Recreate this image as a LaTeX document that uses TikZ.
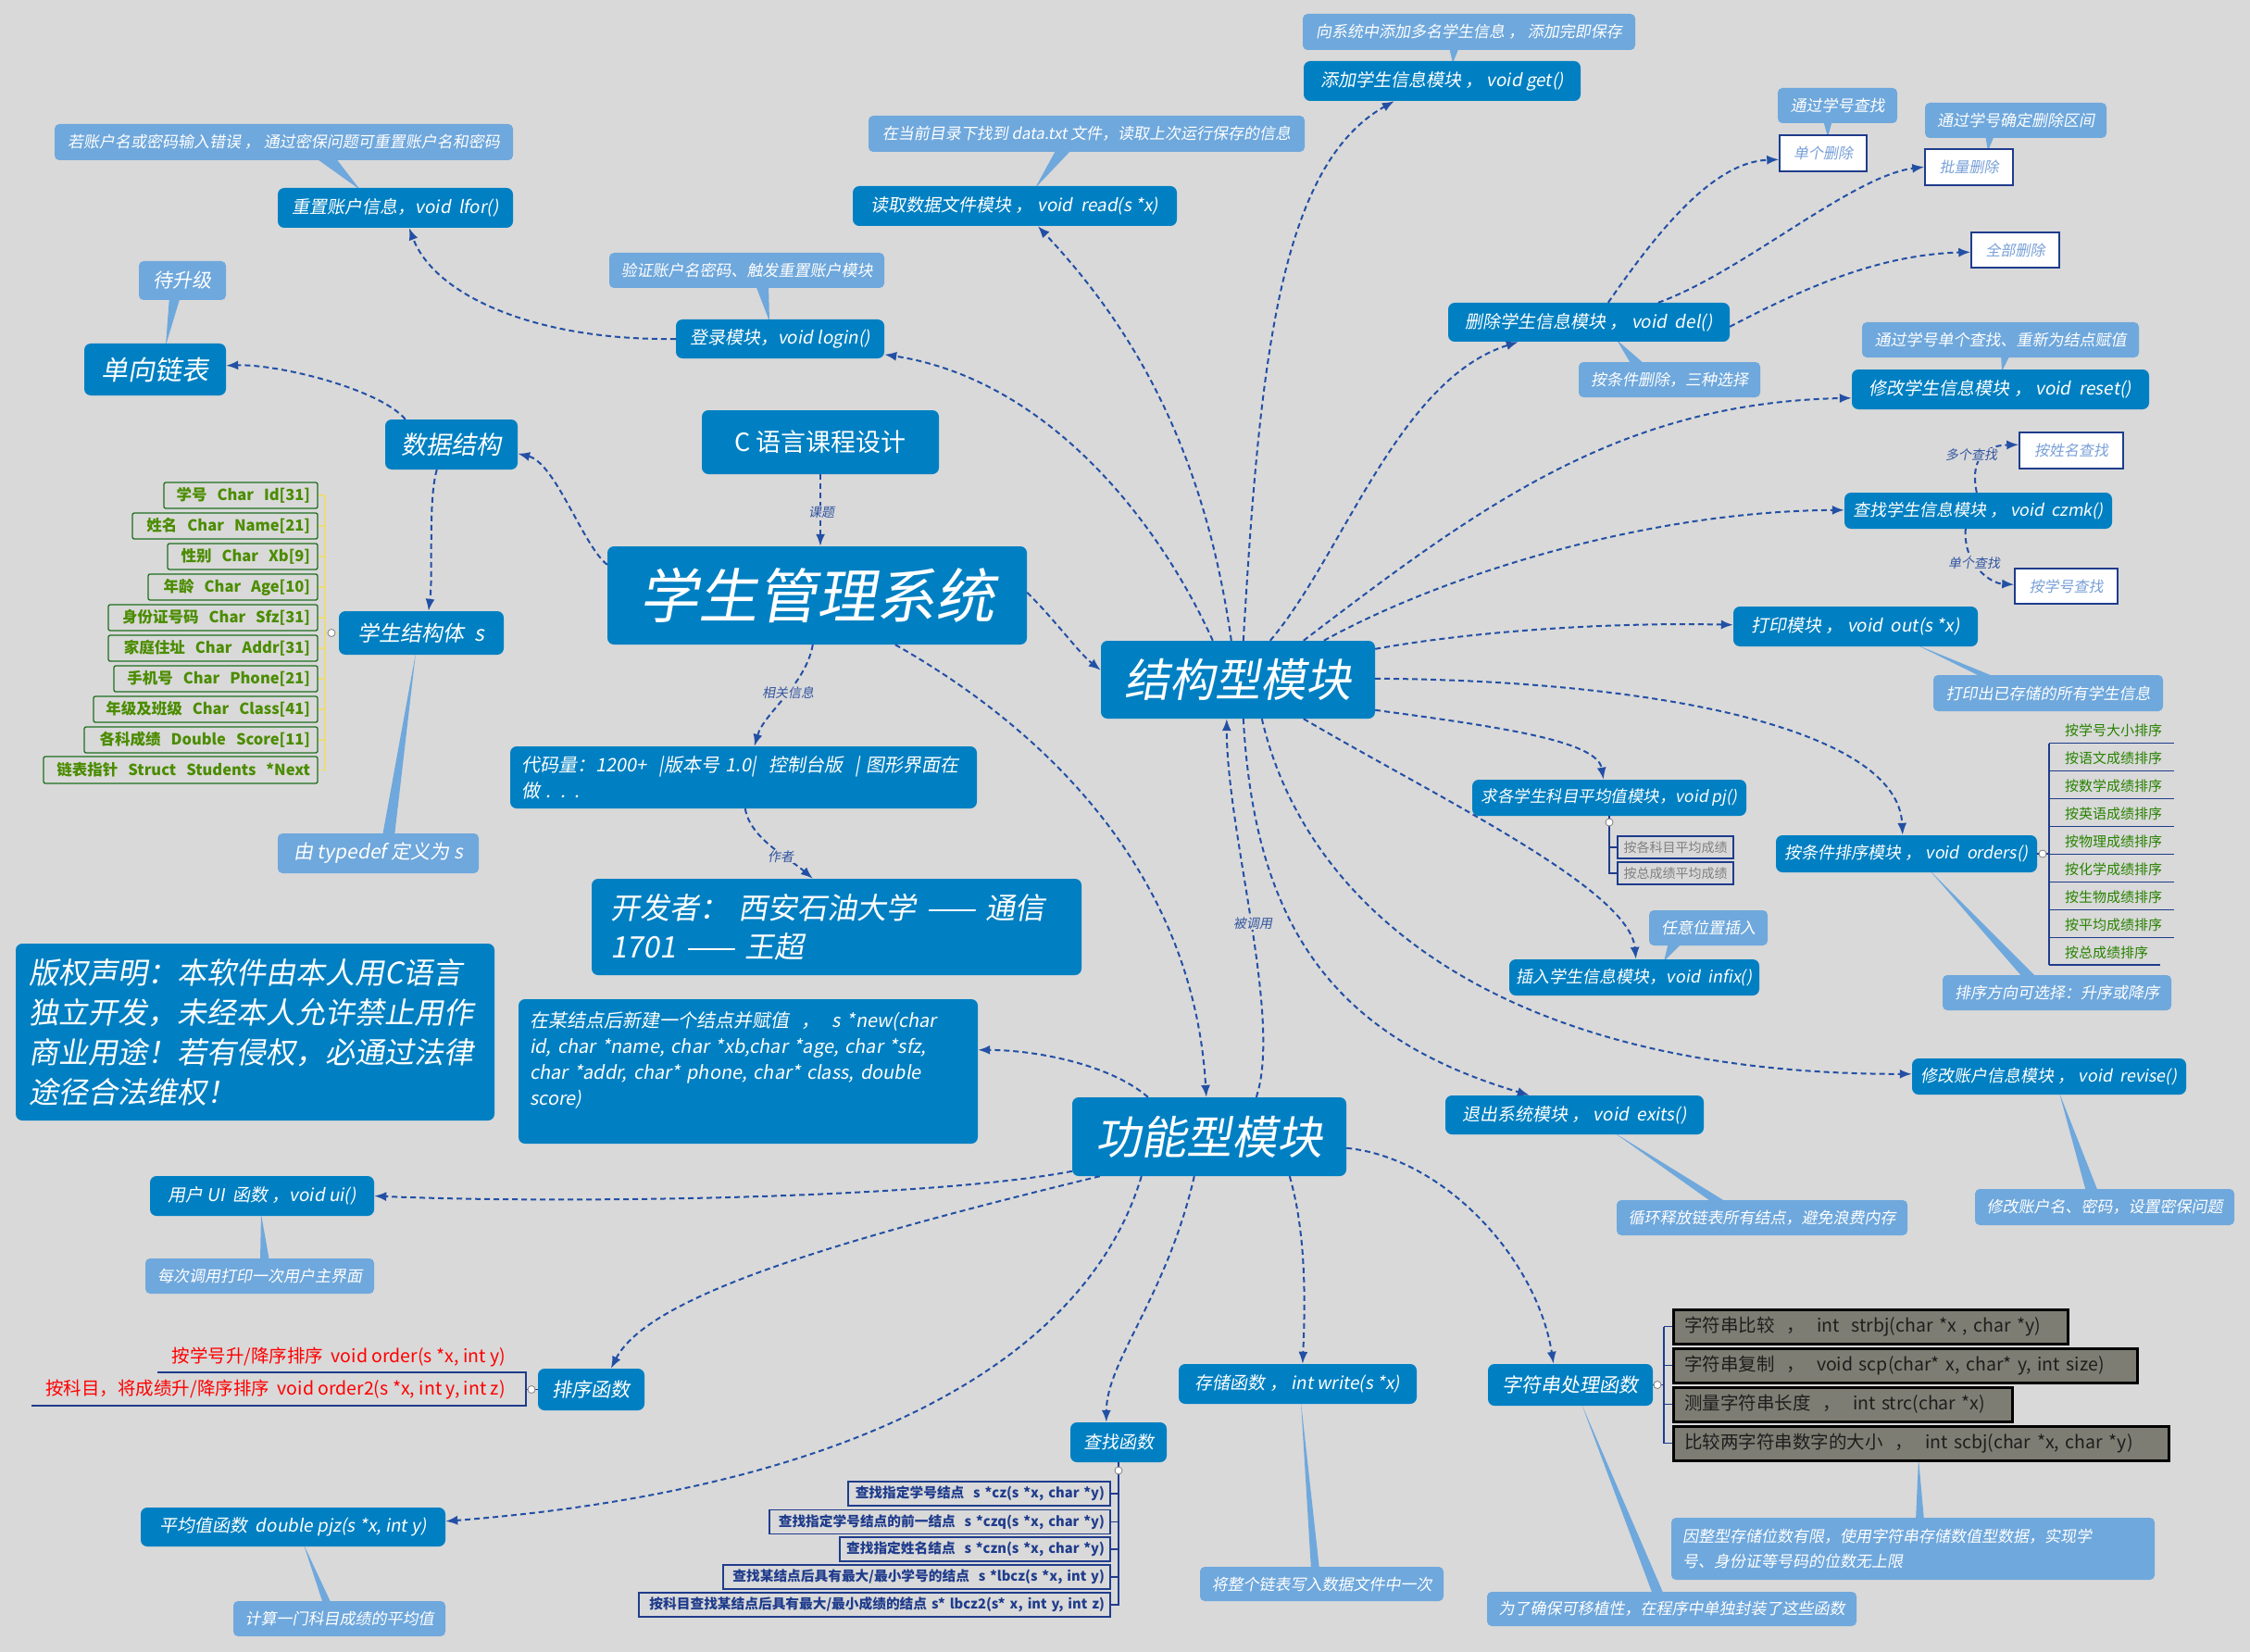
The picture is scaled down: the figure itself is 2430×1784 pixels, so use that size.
\documentclass[tikz,border=0pt]{standalone}
\usepackage{fontspec}
\usetikzlibrary{arrows.meta}
\newfontfamily\zh[FakeSlant=0.18]{Noto Sans CJK SC}
\newfontfamily\zhup{Noto Sans CJK SC}
\newcommand\myfs[1]{\fontsize{#1pt}{\dimexpr#1pt*5/4\relax}\selectfont}
\definecolor{bgc}{RGB}{217,217,217}
\definecolor{dcol}{RGB}{0,128,194}
\definecolor{lcol}{RGB}{111,168,220}
\definecolor{ccol}{RGB}{35,80,165}
\definecolor{navy}{RGB}{31,60,140}
\definecolor{gtext}{RGB}{75,140,0}
\definecolor{gline}{RGB}{30,110,30}
\definecolor{ybr}{RGB}{235,220,120}
\definecolor{kcol}{RGB}{125,125,115}
\definecolor{ktext}{RGB}{30,30,30}
\definecolor{labc}{RGB}{50,85,160}
\definecolor{wtext}{RGB}{120,160,215}
\definecolor{sgreen}{RGB}{40,130,0}
\tikzset{
 sz/.style 2 args={minimum width=#1pt, minimum height=#2pt},
 dbox/.style={fill=dcol, rounded corners=7pt, text=white, inner sep=0pt, align=center, font=\zh\myfs{19}},
 lbox/.style={fill=lcol, rounded corners=5pt, text=white, inner sep=0pt, align=center, font=\zh\myfs{17}},
 wbox/.style={fill=white, draw=navy, line width=1.5pt, text=wtext, inner sep=0pt, font=\zh\myfs{16}},
 gbox/.style={draw=gline, line width=1.3pt, rounded corners=2pt, text=gtext, inner xsep=8pt, inner ysep=0pt, minimum height=28pt, align=right, font=\zhup\bfseries\myfs{16.5}},
 sbox/.style={draw=navy, line width=1.3pt, text=navy, inner xsep=6pt, inner ysep=0pt, minimum height=26pt, align=right, font=\zhup\bfseries\myfs{14.7}},
 kbox/.style={fill=kcol, draw=black, line width=3pt, text=ktext, inner xsep=12pt, inner ysep=0pt, minimum height=37pt, align=left, font=\zhup\myfs{19.5}},
 con/.style={draw=ccol, line width=2pt, dash pattern=on 6pt off 4pt, -{Latex[length=13pt,width=10pt]}},
 elab/.style={text=labc, font=\zh\myfs{14}, inner sep=1pt, fill=bgc},
 stxt/.style={text=sgreen, font=\zhup\myfs{15}, inner sep=0pt, anchor=west},
 ptxt/.style={draw=navy, line width=1.2pt, text=gray, font=\zhup\myfs{14}, inner sep=0pt, minimum width=125pt, minimum height=24pt},
 rtxt/.style={text=red, font=\zhup\myfs{19.5}, inner sep=0pt, anchor=east},
 brk/.style={draw=navy, line width=1.3pt},
 cdot/.style={circle, fill=white, draw=gray, line width=0.8pt, inner sep=0pt, minimum size=8pt},
}
\begin{document}
\begin{tikzpicture}[x=1pt,y=-1pt]
\fill[bgc] (0,0) rectangle (2430,1784);
\useasboundingbox (0,0) rectangle (2430,1784);

% ---------- callout wedges ----------
\fill[lcol] (340,170) -- (362,170) -- (389,205) -- cycle;
\fill[lcol] (183,320) -- (195,320) -- (179,373) -- cycle;
\fill[lcol] (816,308) -- (830,308) -- (831,347) -- cycle;
\fill[lcol] (1141,161) -- (1158,161) -- (1118,203) -- cycle;
\fill[lcol] (1565,51) -- (1576,51) -- (1569,68) -- cycle;
\fill[lcol] (1969,130) -- (1979,130) -- (1974,148) -- cycle;
\fill[lcol] (2144,146) -- (2154,146) -- (2147,163) -- cycle;
\fill[lcol] (1762,394) -- (1777,394) -- (1746,367) -- cycle;
\fill[lcol] (2161,383) -- (2171,383) -- (2162,401) -- cycle;
\fill[lcol] (2142,732) -- (2157,732) -- (2069,696) -- cycle;
\fill[lcol] (1802,1018) -- (1817,1018) -- (1797,1038) -- cycle;
\fill[lcol] (2185,1056) -- (2200,1056) -- (2084,940) -- cycle;
\fill[lcol] (1850,1299) -- (1866,1299) -- (1743,1223) -- cycle;
\fill[lcol] (2253,1287) -- (2266,1287) -- (2224,1180) -- cycle;
\fill[lcol] (413,903) -- (426,903) -- (449,705) -- cycle;
\fill[lcol] (281,1362) -- (291,1362) -- (282,1311) -- cycle;
\fill[lcol] (349,1732) -- (358,1732) -- (328,1668) -- cycle;
\fill[lcol] (1416,1695) -- (1425,1695) -- (1405,1514) -- cycle;
\fill[lcol] (1785,1722) -- (1797,1722) -- (1708,1516) -- cycle;
\fill[lcol] (2069,1642) -- (2078,1642) -- (2072,1575) -- cycle;

% ---------- main dark boxes ----------
\node[dbox, sz={453}{106}, font=\zh\myfs{64}] (root) at (882.5,643) {学生管理系统};
\node[dbox, sz={256}{69}, font=\zhup\myfs{27}] (csd) at (886,477.5) {C 语言课程设计};
\node[dbox, sz={143}{54}, font=\zh\myfs{27}] (ds) at (487.5,480) {数据结构};
\node[dbox, sz={153}{56}, font=\zh\myfs{29}] (list) at (167.5,399) {单向链表};
\node[dbox, sz={178}{47}, font=\zh\myfs{23}] (stu) at (455,683.5) {学生结构体\ \ s};
\node[dbox, sz={225}{42}] (login) at (842.5,366) {登录模块，void login()};
\node[dbox, sz={254}{43}] (racc) at (427,224.5) {重置账户信息，void\ \ lfor()};
\node[dbox, sz={350}{43}] (read) at (1096,222.5) {读取数据文件模块 ， void\ \ read(s *x)};
\node[dbox, sz={299}{43}] (get) at (1557.5,87.5) {添加学生信息模块 ， void get()};
\node[dbox, sz={304}{42}] (del) at (1716,348) {删除学生信息模块 ， void\ \ del()};
\node[dbox, sz={321}{43}] (reset) at (2160.5,420.5) {修改学生信息模块 ， void\ \ reset()};
\node[dbox, sz={289}{39}, font=\zh\myfs{18}] (czmk) at (2136.5,551.5) {查找学生信息模块 ， void\ \ czmk()};
\node[dbox, sz={264}{43}] (out) at (2004,676.5) {打印模块 ， void\ \ out(s *x)};
\node[dbox, sz={296}{39}, font=\zh\myfs{17.5}] (pj) at (1738,861.5) {求各学生科目平均值模块，void pj()};
\node[dbox, sz={282}{40}, font=\zh\myfs{18}] (orders) at (2059,922) {按条件排序模块 ， void\ \ orders()};
\node[dbox, sz={270}{39}, font=\zh\myfs{18}] (infix) at (1765,1055.5) {插入学生信息模块，void\ \ infix()};
\node[dbox, sz={296}{39}, font=\zh\myfs{18}] (revise) at (2213,1162.5) {修改账户信息模块 ， void\ \ revise()};
\node[dbox, sz={279}{42}] (exits) at (1700.5,1204) {退出系统模块 ， void\ \ exits()};
\node[dbox, sz={296}{84}, font=\zh\myfs{49}] (struct) at (1337,734) {结构型模块};
\node[dbox, sz={296}{85}, font=\zh\myfs{49}] (func) at (1306,1227.5) {功能型模块};
\node[dbox, minimum height=67pt, text width=480pt, inner xsep=12pt, align=left, font=\zh\fontsize{20pt}{28pt}\selectfont] (info) at (803,839.5) {代码量：1200+\ \ |版本号 1.0|\ \ 控制台版 \ |\ 图形界面在\\做 . . .};
\node[dbox, minimum height=104pt, text width=489pt, inner xsep=20pt, align=left, font=\zh\fontsize{32pt}{42pt}\selectfont] (dev) at (903.5,1001) {开发者： 西安石油大学 —— 通信\\1701 —— 王超};
\node[dbox, minimum height=156pt, text width=472pt, inner xsep=12pt, align=left, font=\zh\fontsize{20pt}{28pt}\selectfont] (new) at (808,1157) {在某结点后新建一个结点并赋值 \ ， \ s *new(char\\*id, char *name, char *xb,char *age, char *sfz,\\char *addr, char* phone, char* class, double\\*score)\\\mbox{}};
\node[dbox, minimum height=191pt, text width=489pt, inner xsep=14pt, align=left, font=\zh\fontsize{32pt}{43pt}\selectfont] (copy) at (275.5,1114.5) {版权声明：本软件由本人用C语言\\独立开发，未经本人允许禁止用作\\商业用途！若有侵权，必通过法律\\途径合法维权！};
\node[dbox, sz={242}{43}] (ui) at (283,1291.5) {用户 UI\ \ 函数 ，void ui()};
\node[dbox, sz={115}{45}, font=\zh\myfs{21}] (sortf) at (638.5,1500.5) {排序函数};
\node[dbox, sz={329}{42}] (pjz) at (316.5,1649) {平均值函数\ \ double pjz(s *x, int y)};
\node[dbox, sz={104}{43}, font=\zh\myfs{19}] (search) at (1208,1557.5) {查找函数};
\node[dbox, sz={257}{43}] (write) at (1401.5,1494.5) {存储函数 ， int write(s *x)};
\node[dbox, sz={178}{45}, font=\zh\myfs{21}] (strp) at (1696,1495.5) {字符串处理函数};

% ---------- light notes ----------
\node[lbox, sz={495}{39}] (n1) at (306.5,153.5) {若账户名或密码输入错误 ， 通过密保问题可重置账户名和密码};
\node[lbox, sz={94}{42}, font=\zh\myfs{21}] (n2) at (197,303) {待升级};
\node[lbox, sz={297}{38}] (n3) at (806.5,292) {验证账户名密码、触发重置账户模块};
\node[lbox, sz={471}{39}] (n4) at (1173.5,144.5) {在当前目录下找到 data.txt 文件，读取上次运行保存的信息};
\node[lbox, sz={359}{39}] (n5) at (1586.5,34.5) {向系统中添加多名学生信息 ， 添加完即保存};
\node[lbox, sz={129}{38}] (n6) at (1984.5,114) {通过学号查找};
\node[lbox, sz={196}{38}] (n7) at (2177,130) {通过学号确定删除区间};
\node[lbox, sz={196}{38}] (n8) at (1803,410) {按条件删除，三种选择};
\node[lbox, sz={299}{38}] (n9) at (2160.5,367) {通过学号单个查找、重新为结点赋值};
\node[lbox, sz={248}{39}] (n10) at (2212,748.5) {打印出已存储的所有学生信息};
\node[lbox, sz={128}{38}] (n11) at (1845,1002) {任意位置插入};
\node[lbox, sz={247}{38}] (n12) at (2221.5,1072) {排序方向可选择：升序或降序};
\node[lbox, sz={314}{38}] (n13) at (1903,1315) {循环释放链表所有结点，避免浪费内存};
\node[lbox, sz={280}{39}] (n14) at (2273,1303.5) {修改账户名、密码，设置密保问题};
\node[lbox, sz={217}{43}, font=\zh\myfs{21}] (n15) at (408.5,921.5) {由 typedef 定义为 s};
\node[lbox, sz={247}{38}] (n16) at (280.5,1378) {每次调用打印一次用户主界面};
\node[lbox, sz={229}{38}] (n17) at (366.5,1748) {计算一门科目成绩的平均值};
\node[lbox, sz={263}{37}] (n18) at (1427.5,1710.5) {将整个链表写入数据文件中一次};
\node[lbox, sz={399}{37}] (n19) at (1805.5,1737.5) {为了确保可移植性，在程序中单独封装了这些函数};
\node[lbox, minimum height=67pt, text width=498pt, inner xsep=12pt, align=left, font=\zh\fontsize{17pt}{27pt}\selectfont] (n20) at (2066,1672.5) {因整型存储位数有限，使用字符串存储数值型数据，实现学\\号、身份证等号码的位数无上限};

% ---------- white boxes ----------
\node[wbox, sz={94}{39}] (w1) at (1969,165.5) {单个删除};
\node[wbox, sz={95}{39}] (w2) at (2126.5,180.5) {批量删除};
\node[wbox, sz={95}{38}] (w3) at (2176.5,270) {全部删除};
\node[wbox, sz={112}{39}] (w4) at (2237,486.5) {按姓名查找};
\node[wbox, sz={111}{38}] (w5) at (2231.5,633) {按学号查找};

% ---------- struct fields ----------
\draw[ybr, line width=1.5pt] (351,535) -- (351,831.5);
\foreach \yy in {535,568,601,634,667,700,733,766,799,831.5} \draw[ybr, line width=1.5pt] (343,\yy) -- (351,\yy);
\draw[ybr, line width=1.5pt] (351,683.5) -- (stu.west);
\node[gbox, text width=150pt] (f1) at (260,535) {学号\ \ Char\ \ Id[31]};
\node[gbox, text width=184pt] (f2) at (243,568) {姓名\ \ Char\ \ Name[21]};
\node[gbox, text width=146pt] (f3) at (262,601) {性别\ \ Char\ \ Xb[9]};
\node[gbox, text width=167pt] (f4) at (251.5,634) {年龄\ \ Char\ \ Age[10]};
\node[gbox, text width=210pt] (f5) at (230,667) {身份证号码\ \ Char\ \ Sfz[31]};
\node[gbox, text width=210pt] (f6) at (230,700) {家庭住址\ \ Char\ \ Addr[31]};
\node[gbox, text width=204pt] (f7) at (233,733) {手机号\ \ Char\ \ Phone[21]};
\node[gbox, text width=226pt] (f8) at (222,766) {年级及班级\ \ Char\ \ Class[41]};
\node[gbox, text width=236pt] (f9) at (217,799) {各科成绩\ \ Double\ \ Score[11]};
\node[gbox, text width=280pt, minimum height=29pt] (f10) at (195,831.5) {链表指针\ \ Struct\ \ Students\ \ *Next};
\node[cdot] (d1) at (358,683.5) {};

% ---------- sort list ----------
\node[stxt] (s1) at (2230,789) {按学号大小排序};
\node[stxt] (s2) at (2230,819) {按语文成绩排序};
\node[stxt] (s3) at (2230,849) {按数学成绩排序};
\node[stxt] (s4) at (2230,879) {按英语成绩排序};
\node[stxt] (s5) at (2230,909) {按物理成绩排序};
\node[stxt] (s6) at (2230,939) {按化学成绩排序};
\node[stxt] (s7) at (2230,969) {按生物成绩排序};
\node[stxt] (s8) at (2230,999) {按平均成绩排序};
\node[stxt] (s9) at (2230,1029) {按总成绩排序};
\foreach \yy in {802.5,832.5,862.5,892.5,922.5,952.5,982.5,1012.5} \draw[brk] (2213,\yy) -- (2348,\yy);
\draw[brk] (2213,1042) -- (2333,1042);
\draw[brk] (2213,802.5) -- (2213,1042);
\draw[brk] (orders.east) -- (2213,922);
\node[cdot] (d2) at (2206,922) {};

% ---------- pj sub list ----------
\node[ptxt] (p1) at (1809.5,915) {按各科目平均成绩};
\node[ptxt] (p2) at (1809.5,943) {按总成绩平均成绩};
\draw[brk] (1738,881) -- (1738,943) -- (p2.west);
\draw[brk] (1738,915) -- (p1.west);
\node[cdot] (d3) at (1738,888) {};

% ---------- search list ----------
\node[sbox, text width=271pt] (c1) at (1057.5,1613) {查找指定学号结点\ \ s *cz(s *x, char *y)};
\node[sbox, text width=356pt] (c2) at (1015,1643.5) {查找指定学号结点的前一结点\ \ s *czq(s *x, char *y)};
\node[sbox, text width=280pt] (c3) at (1053,1673) {查找指定姓名结点\ \ s *czn(s *x, char *y)};
\node[sbox, text width=406pt] (c4) at (990,1703) {查找某结点后具有最大/最小学号的结点\ \ s *lbcz(s *x, int y)};
\node[sbox, text width=497pt] (c5) at (944.5,1733) {按科目查找某结点后具有最大/最小成绩的结点 s* lbcz2(s* x, int y, int z)};
\draw[brk] (search.south) -- (1208,1733) -- (c5.east);
\foreach \nn in {c1,c2,c3,c4} \draw[brk] (\nn.east) -- (\nn.east -| 1208,0);
\node[cdot] (d4) at (1208,1588) {};

% ---------- string function boxes ----------
\node[kbox, text width=402pt] (k1) at (2020,1432.5) {字符串比较 \ ， \ int\ \ strbj(char *x , char *y)};
\node[kbox, text width=477pt] (k2) at (2057.5,1474.5) {字符串复制 \ ， \ void scp(char* x, char* y, int size)};
\node[kbox, text width=342pt] (k3) at (1990,1516.5) {测量字符串长度 \ ， \ int strc(char *x)};
\node[kbox, text width=511pt] (k4) at (2074.5,1558.5) {比较两字符串数字的大小 \ ， \ int scbj(char *x, char *y)};
\draw[brk] (k1.west -| 1797,0) -- (k4.west -| 1797,0);
\foreach \nn in {k1,k2,k3,k4} \draw[brk] (\nn.west -| 1797,0) -- (\nn.west);
\draw[brk] (strp.east) -- (1797,1495.5);
\node[cdot] (d5) at (1790,1495.5) {};

% ---------- red order texts ----------
\node[rtxt] (r1) at (546,1465) {按学号升/降序排序\ \ void order(s *x, int y)};
\node[rtxt] (r2) at (546,1501) {按科目，将成绩升/降序排序\ \ void order2(s *x, int y, int z)};
\draw[brk] (170,1482) -- (568,1482) -- (568,1518) -- (34,1518);
\draw[brk] (568,1500.5) -- (sortf.west);
\node[cdot] (d6) at (574,1500.5) {};

% ---------- connectors ----------
\draw[con] ([yshift=-20pt]root.north west) .. controls (630,590) and (600,500) .. ([yshift=-37pt]ds.north east);
\draw[con] ([xshift=22pt]ds.north west) .. controls (410,420) and (300,393) .. ([yshift=-24pt]list.north east);
\draw[con] ([xshift=56pt]ds.south west) .. controls (462,540) and (468,620) .. ([xshift=97pt]stu.north west);
\draw[con] (login.west) .. controls (580,368) and (470,320) .. ([xshift=142pt]racc.south west);
\draw[con] (csd.south) -- (csd.south |- root.north);
\node[elab] (lab1) at (887,553) {课题};
\draw[con] ([xshift=222pt]root.south west) .. controls (870,740) and (825,770) .. ([xshift=264pt]info.north west);
\node[elab] (lab2) at (851,748) {相关信息};
\draw[con] ([xshift=254pt]info.south west) .. controls (810,905) and (850,925) .. ([xshift=239pt]dev.north west);
\node[elab] (lab3) at (843,925) {作者};
\draw[con] ([yshift=-50pt]root.north east) .. controls (1140,670) and (1165,705) .. ([yshift=-32pt]struct.north west);
\draw[con] ([xshift=311pt]root.south west) .. controls (1150,800) and (1290,960) .. ([xshift=145pt]func.north west);
\draw[con] ([xshift=199pt]func.north west) .. controls (1385,1100) and (1325,900) .. ([xshift=136pt]struct.south west);
\node[elab] (lab4) at (1353,997) {被调用};
\draw[con] ([xshift=121pt]struct.north west) .. controls (1250,560) and (1130,410) .. ([yshift=-38pt]login.north east);
\draw[con] ([xshift=141pt]struct.north west) .. controls (1300,480) and (1220,350) .. ([xshift=200pt]read.south west);
\draw[con] ([xshift=154pt]struct.north west) .. controls (1360,400) and (1380,180) .. ([xshift=98pt]get.south west);
\draw[con] ([xshift=183pt]struct.north west) .. controls (1450,600) and (1510,410) .. ([xshift=76pt]del.south west);
\draw[con] ([xshift=219pt]struct.north west) .. controls (1600,545) and (1750,435) .. ([yshift=-31pt]reset.north west);
\draw[con] ([xshift=241pt]struct.north west) .. controls (1560,620) and (1780,552) .. ([yshift=-19pt]czmk.north west);
\draw[con] ([yshift=-9pt]struct.north east) .. controls (1600,680) and (1750,672) .. ([yshift=-20pt]out.north west);
\draw[con] ([yshift=-41pt]struct.north east) .. controls (1800,735) and (2050,790) .. ([xshift=137pt]orders.north west);
\draw[con] ([yshift=-75pt]struct.north east) .. controls (1620,785) and (1725,800) .. ([xshift=142pt]pj.north west);
\draw[con] ([xshift=219pt]struct.south west) .. controls (1550,860) and (1760,960) .. ([xshift=137pt]infix.north west);
\draw[con] ([xshift=174pt]struct.south west) .. controls (1410,980) and (1620,1160) .. ([yshift=-17pt]revise.north west);
\draw[con] ([xshift=154pt]struct.south west) .. controls (1355,1000) and (1440,1120) .. ([xshift=91pt]exits.north west);
\draw[con] ([xshift=173pt]del.north west) .. controls (1790,250) and (1850,175) .. ([yshift=-27pt]w1.north west);
\draw[con] ([xshift=227pt]del.north west) .. controls (1880,295) and (2000,190) .. ([yshift=-20pt]w2.north west);
\draw[con] ([yshift=-26pt]del.north east) .. controls (1950,310) and (2030,275) .. ([yshift=-22pt]w3.north west);
\draw[con] ([xshift=143pt]czmk.north west) .. controls (2128,500) and (2140,481) .. ([yshift=-14pt]w4.north west);
\node[elab] (lab5) at (2129,491) {多个查找};
\draw[con] ([xshift=131pt]czmk.south west) .. controls (2120,610) and (2150,630) .. ([yshift=-18pt]w5.north west);
\node[elab] (lab6) at (2132,608) {单个查找};
\draw[con] ([xshift=82pt]func.north west) .. controls (1200,1150) and (1120,1134) .. ([yshift=-55pt]new.north east);
\draw[con] ([yshift=-80pt]func.north west) .. controls (1000,1295) and (600,1300) .. (ui.east);
\draw[con] ([xshift=30pt]func.south west) .. controls (900,1340) and (700,1400) .. ([xshift=79pt]sortf.north west);
\draw[con] ([xshift=75pt]func.south west) .. controls (1170,1480) and (900,1610) .. ([yshift=-15pt]pjz.north east);
\draw[con] ([xshift=132pt]func.south west) .. controls (1260,1400) and (1195,1470) .. ([xshift=39pt]search.north west);
\draw[con] ([xshift=235pt]func.south west) .. controls (1410,1330) and (1410,1400) .. ([xshift=134pt]write.north west);
\draw[con] ([yshift=-55pt]func.north east) .. controls (1560,1250) and (1660,1360) .. ([xshift=71pt]strp.north west);
\end{tikzpicture}
\end{document}
